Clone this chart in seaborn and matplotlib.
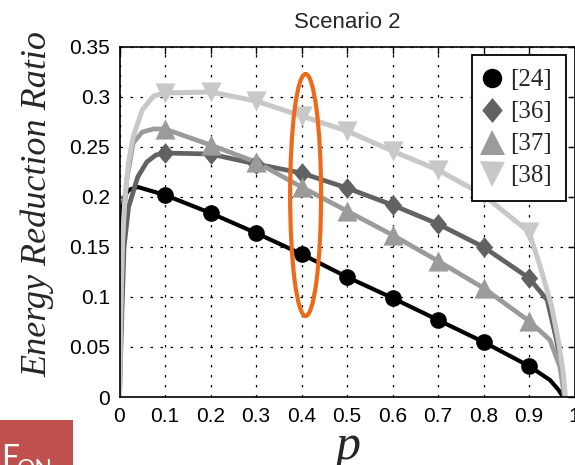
import matplotlib
matplotlib.use("Agg")
import matplotlib.pyplot as plt
import pandas as pd
import seaborn as sns
from matplotlib.patches import Ellipse, Rectangle
from matplotlib.lines import Line2D

# Schemes compared
schemes = ["[24]", "[36]", "[37]", "[38]"]

# Marker positions on p
p_marks = [0.1, 0.2, 0.3, 0.4, 0.5, 0.6, 0.7, 0.8, 0.9]

# Energy reduction ratio at the marker positions
r24_marks = [0.202, 0.184, 0.164, 0.143, 0.120, 0.099, 0.077, 0.055, 0.031]
r36_marks = [0.244, 0.243, 0.233, 0.224, 0.209, 0.192, 0.173, 0.150, 0.119]
r37_marks = [0.268, 0.252, 0.235, 0.210, 0.186, 0.162, 0.136, 0.109, 0.076]
r38_marks = [0.304, 0.305, 0.296, 0.281, 0.266, 0.246, 0.227, 0.202, 0.165]

# Steep rise near p = 0
p24_head = [0.0, 0.002, 0.005, 0.01, 0.02, 0.04]
r24_head = [0.0, 0.12, 0.18, 0.200, 0.207, 0.210]
p36_head = [0.0, 0.005, 0.01, 0.02, 0.04, 0.06, 0.08]
r36_head = [0.0, 0.08, 0.15, 0.19, 0.22, 0.235, 0.242]
p37_head = [0.0, 0.004, 0.008, 0.016, 0.03, 0.05, 0.075]
r37_head = [0.0, 0.10, 0.17, 0.217, 0.254, 0.265, 0.268]
p38_head = [0.0, 0.003, 0.006, 0.012, 0.02, 0.03, 0.05, 0.075]
r38_head = [0.0, 0.09, 0.15, 0.20, 0.235, 0.26, 0.287, 0.301]

# Drop to zero near p = 1
p24_tail = [0.946, 0.965, 0.975]
r24_tail = [0.017, 0.007, 0.0]
p36_tail = [0.94, 0.96, 0.972, 0.978]
r36_tail = [0.097, 0.058, 0.03, 0.0]
p37_tail = [0.946, 0.968, 0.978]
r37_tail = [0.057, 0.030, 0.0]
p38_tail = [0.925, 0.95, 0.965, 0.975, 0.98]
r38_tail = [0.13, 0.09, 0.055, 0.025, 0.0]

x_ticks = [0, 0.1, 0.2, 0.3, 0.4, 0.5, 0.6, 0.7, 0.8, 0.9, 1]
x_tick_labels = ["0", "0.1", "0.2", "0.3", "0.4", "0.5", "0.6", "0.7", "0.8", "0.9", "1"]
y_ticks = [0, 0.05, 0.1, 0.15, 0.2, 0.25, 0.3, 0.35]
y_tick_labels = ["0", "0.05", "0.1", "0.15", "0.2", "0.25", "0.3", "0.35"]

colors = {"[24]": "#000000", "[36]": "#626262", "[37]": "#9b9b9b", "[38]": "#c8c8c8"}
widths = {"[24]": 3.0, "[36]": 3.4, "[37]": 3.4, "[38]": 3.6}
diamond = [(0, 1), (0.82, 0), (0, -1), (-0.82, 0), (0, 1)]
markers = {"[24]": "o", "[36]": diamond, "[37]": "^", "[38]": "v"}
msize = {"[24]": 12, "[36]": 15, "[37]": 14.5, "[38]": 14.5}
lsize = {"[24]": 14, "[36]": 18, "[37]": 18, "[38]": 18}

heads = {"[24]": (p24_head, r24_head), "[36]": (p36_head, r36_head),
         "[37]": (p37_head, r37_head), "[38]": (p38_head, r38_head)}
tails = {"[24]": (p24_tail, r24_tail), "[36]": (p36_tail, r36_tail),
         "[37]": (p37_tail, r37_tail), "[38]": (p38_tail, r38_tail)}
marks = {"[24]": r24_marks, "[36]": r36_marks, "[37]": r37_marks, "[38]": r38_marks}

curve_rows = []
mark_rows = []
for s in schemes:
    ph, rh = heads[s]
    pt, rt = tails[s]
    for p, r in zip(ph + p_marks + pt, rh + marks[s] + rt):
        curve_rows.append({"scheme": s, "p": p, "ratio": r})
    for p, r in zip(p_marks, marks[s]):
        mark_rows.append({"scheme": s, "p": p, "ratio": r})
curves = pd.DataFrame(curve_rows)
points = pd.DataFrame(mark_rows)

sns.set_style("white")
plt.rcParams["font.family"] = ["Liberation Sans", "DejaVu Sans"]

fig = plt.figure(figsize=(5.75, 4.65), dpi=100)
ax = fig.add_axes([119.5 / 575, 1 - 397 / 465, 455 / 575, 350 / 465])

for s in schemes:
    c = curves[curves["scheme"] == s]
    m = points[points["scheme"] == s]
    sns.lineplot(data=c, x="p", y="ratio", color=colors[s], linewidth=widths[s],
                 sort=False, estimator=None, ax=ax, legend=False,
                 solid_joinstyle="round", solid_capstyle="round")
    sns.scatterplot(data=m, x="p", y="ratio", color=colors[s], marker=markers[s],
                    s=msize[s] ** 2, linewidth=0, ax=ax, legend=False, zorder=3)

ax.set_xlim(0, 1)
ax.set_ylim(0, 0.35)
ax.set_xticks(x_ticks)
ax.set_xticklabels(x_tick_labels)
ax.set_yticks(y_ticks)
ax.set_yticklabels(y_tick_labels)
ax.set_xlabel("")
ax.set_ylabel("")
ax.grid(True, color="black", linestyle=(0, (2, 6)), linewidth=0.9)
ax.tick_params(direction="in", length=5, width=1, top=True, right=True,
               labelsize=15, pad=7, colors="black")
for sp in ax.spines.values():
    sp.set_color("black")
    sp.set_linewidth(1.2)
ax.set_axisbelow(True)

ax.set_title("Scenario 2", fontsize=16, pad=14)

# Highlight around p = 0.4
ax.add_patch(Ellipse((0.409, 0.202), 0.068, 0.242, fill=False,
                     edgecolor="#EE6A1B", linewidth=3, zorder=5))

handles = [Line2D([], [], linestyle="none", marker=markers[s], color=colors[s],
                  markersize=lsize[s], markeredgewidth=0) for s in schemes]
leg = ax.legend(handles, schemes, loc="upper right", bbox_to_anchor=(0.981, 0.977),
                borderaxespad=0, frameon=True, fancybox=False, edgecolor="black",
                framealpha=1, prop={"family": "Liberation Serif", "size": 18},
                handlelength=0.5, handletextpad=0.5, borderpad=0.55,
                labelspacing=0.38)
leg.get_frame().set_linewidth(1.3)

fig.text(38 / 575, 1 - 204 / 465, "Energy Reduction Ratio", rotation=90,
         ha="center", va="center", fontsize=26, family="Liberation Serif",
         style="italic")
fig.text(348 / 575, 1 - 459 / 465, "p", ha="center", va="baseline", fontsize=36,
         family="Liberation Serif", style="italic")

# Corner badge
fig.patches.append(Rectangle((0, 0), 73 / 575, 45 / 465, transform=fig.transFigure,
                             facecolor="#C0504D", edgecolor="none", figure=fig))
fig.text(1 / 575, 1 - 468 / 465, "E", color="white", fontsize=23, family="Lato",
         va="baseline", ha="left")
fig.text(17 / 575, 1 - 476 / 465, "ON", color="white", fontsize=16.5, family="Lato",
         va="baseline", ha="left")

fig.savefig("out.png", dpi=100)
